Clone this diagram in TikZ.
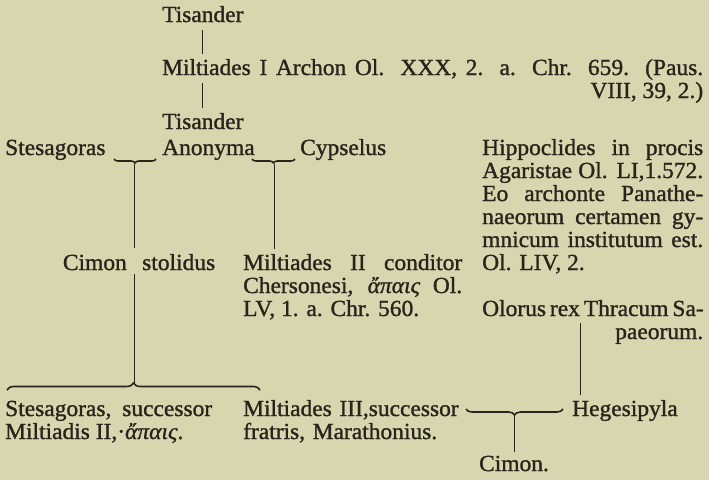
\documentclass[tikz,border=0pt]{standalone}
\usepackage{fontspec}
\setmainfont[FakeStretch=1.02, FakeBold=1.2]{Liberation Serif}
\usepackage{tikz}
\usetikzlibrary{decorations.pathreplacing}
\definecolor{paper}{RGB}{215,214,175}
\definecolor{ink}{RGB}{40,36,28}

\begin{document}
\begin{tikzpicture}[x=1pt, y=-1pt,
  entry/.style={anchor=base west, inner sep=0pt, text=ink,
    font=\fontsize{23}{23}\selectfont},
  block/.style={entry, text width=#1, align=justify},
  stem/.style={draw=ink, line width=0.9pt},
  tie/.style={draw=ink, line width=1.6pt, decorate,
    decoration={brace, amplitude=#1}}
 ]
\fill[paper] (0,0) rectangle (709,480);

\node[entry] (tis1) at (162,22) {Tisander};
\node[block=541pt] (milt1) at (162,75) {Miltiades I Archon Ol. XXX, 2. a. Chr. 659. (Paus.\linebreak\hspace*{\fill}VIII, 39, 2.)};
\node[entry] (tis2) at (162,129) {Tisander};
\node[entry] (anon) at (162,155) {Anonyma};
\node[entry] (stes) at (5,155) {Stesagoras};
\node[entry] (cyps) at (300,155) {Cypselus};
\node[block=221pt] (hipp) at (482,155) {Hippoclides in procis\linebreak Agaristae Ol. LI,1.572.\linebreak Eo archonte Panathe-\linebreak naeorum certamen gy-\linebreak mnicum institutum est.\linebreak Ol. LIV, 2.};

\node[entry, anchor=base east] (cimon) at (127,270) {Cimon};
\node[entry] (stol) at (142,270) {stolidus};
\node[block=219pt] (milt2) at (243,270) {Miltiades II conditor\linebreak Chersonesi, \textit{ἄπαις} Ol.\linebreak LV, 1. a. Chr. 560.};
\node[block=221pt] (olor) at (482,316) {\makebox[221pt][s]{Olorus rex Thracum Sa-}\linebreak\hspace*{\fill}paeorum.};

\node[block=207pt] (stes2) at (5,416) {Stesagoras, successor\linebreak Miltiadis II,·\textit{ἄπαις}.};
\node[block=240pt, align=left] (milt3) at (243,416) {Miltiades III,successor\\fratris, Marathonius.};
\node[entry] (heges) at (572,416) {Hegesipyla};
\node[entry, anchor=base] (cimon2) at (514,471) {Cimon.};

% braces
\draw[tie=4pt] (156,159) -- (114,159);
\coordinate (b1) at (134,164);
\draw[tie=4pt] (295,159) -- (252,159);
\coordinate (b2) at (274,164);
\draw[tie=7pt] (7,390) -- (260,390);
\coordinate (b3) at (134,383);
\draw[tie=6pt] (563,409) -- (466,409);
\coordinate (b4) at (514,415);

% descent
\draw[stem, shorten <=8pt, shorten >=5pt] (tis1.south) -- (tis1.south |- milt1.north);
\draw[stem, shorten <=8pt, shorten >=5pt] (tis2.north |- milt1.base) -- (tis2.north);
\draw[stem, shorten >=6pt] (b1) -- (b1 |- stol.north);
\draw[stem, shorten <=4pt] (b1 |- stol.base) -- (b3);
\draw[stem, shorten >=5pt] (b2) -- (b2 |- milt2.north);
\draw[stem, shorten <=7pt, shorten >=5pt] ([xshift=8pt]heges.north west |- olor.base) -- ([xshift=8pt]heges.north west);
\draw[stem, shorten >=4pt] (b4) -- (cimon2.north);
\end{tikzpicture}
\end{document}
